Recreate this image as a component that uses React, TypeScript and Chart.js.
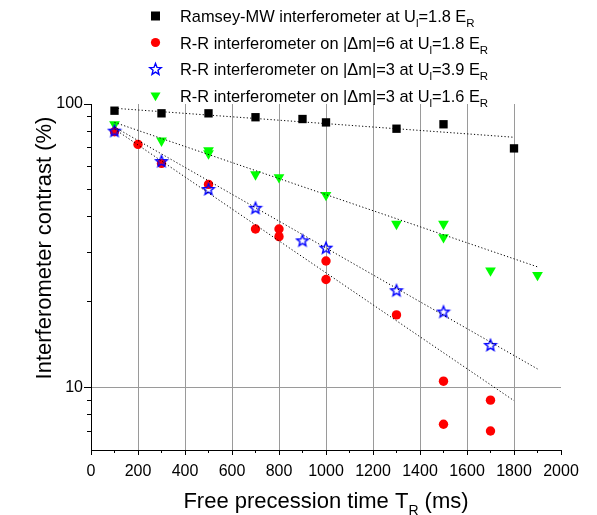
import React, { useEffect, useRef } from "react";
import { Chart, registerables } from "chart.js";

Chart.register(...registerables);

// ---------- data ----------
const ramseyT = [100, 300, 500, 700, 900, 1000, 1300, 1500, 1800];
const ramseyC = [94.7, 92.7, 92.7, 89.8, 88.5, 86.1, 81.8, 84.8, 69.7];

const dm6T = [100, 200, 300, 500, 700, 800, 800, 1000, 1000, 1300, 1500, 1500, 1700, 1700];
const dm6C = [79.8, 72.0, 61.7, 52.0, 36.2, 36.2, 34.0, 27.9, 24.0, 18.0, 10.5, 7.4, 9.0, 7.0];

const dm3hT = [100, 300, 500, 700, 900, 1000, 1300, 1500, 1700];
const dm3hC = [80.5, 62.9, 50.1, 43.0, 33.0, 31.1, 22.0, 18.5, 14.1];

const dm3lT = [100, 300, 500, 500, 700, 800, 1000, 1300, 1500, 1500, 1700, 1900];
const dm3lC = [84.8, 74.2, 68.6, 66.9, 56.4, 55.1, 47.7, 37.7, 37.7, 33.8, 25.8, 24.9];

// exponential fits (end points)
const fitRamseyT = [100, 1800];
const fitRamseyC = [96.6, 76.3];
const fitDm6T = [100, 1800];
const fitDm6C = [81.6, 8.96];
const fitDm3hT = [100, 1900];
const fitDm3hC = [82.9, 11.6];
const fitDm3lT = [100, 1900];
const fitDm3lC = [86.1, 26.6];

const xMin = 0;
const xMax = 2000;
const xStep = 100;
const xLabelStep = 200;
const yMin = 6;
const yMax = 100;
const yTickValues = [7, 8, 9, 10, 20, 30, 40, 50, 60, 70, 80, 90, 100];
const yLabelValues = [10, 100];
const yGridValues = [10];

const legendPrefixes = [
  "Ramsey-MW interferometer at U",
  "R-R interferometer on |\u0394m|=6 at U",
  "R-R interferometer on |\u0394m|=3 at U",
  "R-R interferometer on |\u0394m|=3 at U",
];
const legendValues = ["=1.8 E", "=1.8 E", "=3.9 E", "=1.6 E"];
const legendSub1 = "l";
const legendSub2 = "R";

const xTitleMain = "Free precession time T";
const xTitleSub = "R";
const xTitleTail = " (ms)";
const yTitle = "Interferometer contrast (%)";

const FONT = "'Liberation Sans', Arial, Helvetica, sans-serif";
const GRID = "#9a9a9a";
const BLACK = "#000000";
const RED = "#ff0000";
const BLUE = "#0000ff";
const GREEN = "#00ff00";

function zip(xs: number[], ys: number[]) {
  return xs.map((x, i) => ({ x, y: ys[i] }));
}

function starPath(ctx: CanvasRenderingContext2D, cx: number, cy: number, R: number, r: number) {
  ctx.beginPath();
  for (let i = 0; i < 10; i++) {
    const ang = -Math.PI / 2 + (i * Math.PI) / 5;
    const rad = i % 2 === 0 ? R : r;
    const px = cx + rad * Math.cos(ang);
    const py = cy + rad * Math.sin(ang);
    if (i === 0) ctx.moveTo(px, py);
    else ctx.lineTo(px, py);
  }
  ctx.closePath();
}

function drawStar(ctx: CanvasRenderingContext2D, cx: number, cy: number) {
  ctx.save();
  starPath(ctx, cx, cy, 6, 2.6);
  ctx.strokeStyle = BLUE;
  ctx.lineWidth = 1.4;
  ctx.lineJoin = "miter";
  ctx.stroke();
  ctx.restore();
}

function makeStarImage() {
  const c = document.createElement("canvas");
  c.width = 16;
  c.height = 16;
  const ctx = c.getContext("2d")!;
  drawStar(ctx, 8, 8.6);
  return c;
}

function drawTriDown(ctx: CanvasRenderingContext2D, cx: number, cy: number, r: number) {
  ctx.beginPath();
  ctx.moveTo(cx, cy + r);
  ctx.lineTo(cx - r * 0.866, cy - r * 0.5);
  ctx.lineTo(cx + r * 0.866, cy - r * 0.5);
  ctx.closePath();
  ctx.fillStyle = GREEN;
  ctx.fill();
}

const decorPlugin = {
  id: "decor",
  afterDraw(chart: any) {
    const { ctx, chartArea } = chart;
    const xs = chart.scales.x;
    const ys = chart.scales.y;
    ctx.save();
    ctx.strokeStyle = "#000";
    ctx.lineWidth = 1;
    // x tick marks
    for (const t of xs.ticks) {
      const px = Math.round(xs.getPixelForValue(t.value) - 0.5) + 0.5;
      const major = t.value % xLabelStep === 0;
      ctx.beginPath();
      ctx.moveTo(px, chartArea.bottom);
      ctx.lineTo(px, chartArea.bottom + (major ? 5 : 3));
      ctx.stroke();
    }
    // y tick marks
    for (const t of ys.ticks) {
      const py = Math.round(ys.getPixelForValue(t.value) - 0.5) + 0.5;
      const major = yLabelValues.includes(t.value);
      ctx.beginPath();
      ctx.moveTo(chartArea.left, py);
      ctx.lineTo(chartArea.left - (major ? 7 : 4), py);
      ctx.stroke();
    }

    // axis titles
    ctx.fillStyle = "#000";
    ctx.textBaseline = "alphabetic";
    ctx.textAlign = "left";
    const mainF = `22px ${FONT}`;
    const subF = `14px ${FONT}`;
    ctx.font = mainF;
    const w1 = ctx.measureText(xTitleMain).width;
    const w3 = ctx.measureText(xTitleTail).width;
    ctx.font = subF;
    const w2 = ctx.measureText(xTitleSub).width;
    const total = w1 + w2 + w3;
    let tx = (chartArea.left + chartArea.right) / 2 - total / 2;
    const tb = chartArea.bottom + 58;
    ctx.font = mainF;
    ctx.fillText(xTitleMain, tx, tb);
    tx += w1;
    ctx.font = subF;
    ctx.fillText(xTitleSub, tx, tb + 7);
    tx += w2;
    ctx.font = mainF;
    ctx.fillText(xTitleTail, tx, tb);

    ctx.save();
    ctx.translate(51, 248);
    ctx.rotate(-Math.PI / 2);
    ctx.textAlign = "center";
    ctx.font = mainF;
    ctx.fillText(yTitle, 0, 0);
    ctx.restore();

    // legend
    const lx = 180;
    const mx = 155.5;
    const rowY = [16, 42.5, 69, 95.5];
    const lf = `16.4px ${FONT}`;
    const sf = `11.5px ${FONT}`;
    for (let i = 0; i < legendPrefixes.length; i++) {
      const cy = rowY[i];
      if (i === 0) {
        ctx.fillStyle = BLACK;
        ctx.fillRect(mx - 4.5, cy - 4.5, 9, 9);
      } else if (i === 1) {
        ctx.fillStyle = RED;
        ctx.beginPath();
        ctx.arc(mx, cy, 4.6, 0, Math.PI * 2);
        ctx.fill();
      } else if (i === 2) {
        drawStar(ctx, mx, cy + 0.5);
      } else {
        drawTriDown(ctx, mx, cy, 5.8);
      }
      ctx.fillStyle = "#000";
      const base = cy + 6;
      let x = lx;
      ctx.font = lf;
      ctx.fillText(legendPrefixes[i], x, base);
      x += ctx.measureText(legendPrefixes[i]).width;
      ctx.font = sf;
      ctx.fillText(legendSub1, x, base + 5);
      x += ctx.measureText(legendSub1).width;
      ctx.font = lf;
      ctx.fillText(legendValues[i], x, base);
      x += ctx.measureText(legendValues[i]).width;
      ctx.font = sf;
      ctx.fillText(legendSub2, x, base + 5);
    }
    ctx.restore();
  },
};

export default function App() {
  const ref = useRef<HTMLCanvasElement | null>(null);

  useEffect(() => {
    if (!ref.current) return;
    Chart.defaults.font.family = FONT;
    Chart.defaults.color = "#000";
    const star = makeStarImage();

    const fitStyle = {
      type: "line" as const,
      borderColor: "#000",
      borderWidth: 1,
      borderDash: [1.2, 2.2],
      pointRadius: 0,
      fill: false,
      order: 0,
    };

    const chart = new Chart(ref.current, {
      type: "scatter",
      data: {
        datasets: [
          { ...fitStyle, label: "fit1", data: zip(fitRamseyT, fitRamseyC) },
          { ...fitStyle, label: "fit2", data: zip(fitDm6T, fitDm6C) },
          { ...fitStyle, label: "fit3", data: zip(fitDm3hT, fitDm3hC) },
          { ...fitStyle, label: "fit4", data: zip(fitDm3lT, fitDm3lC) },
          {
            label: "Ramsey-MW",
            data: zip(ramseyT, ramseyC),
            pointStyle: "rect",
            pointRadius: 5.9,
            backgroundColor: BLACK,
            borderWidth: 0,
            order: 4,
          },
          {
            label: "dm6",
            data: zip(dm6T, dm6C),
            pointStyle: "circle",
            pointRadius: 4.7,
            backgroundColor: RED,
            borderWidth: 0,
            order: 2,
          },
          {
            label: "dm3 3.9",
            data: zip(dm3hT, dm3hC),
            pointStyle: star as any,
            pointRadius: 6,
            backgroundColor: BLUE,
            borderColor: BLUE,
            order: 1,
          },
          {
            label: "dm3 1.6",
            data: zip(dm3lT, dm3lC),
            pointStyle: "triangle",
            rotation: 180,
            pointRadius: 6.2,
            backgroundColor: GREEN,
            borderWidth: 0,
            order: 3,
          },
        ] as any,
      },
      options: {
        animation: false,
        responsive: false,
        events: [],
        layout: { padding: { left: 0, top: 104, right: 36, bottom: 0 } },
        plugins: { legend: { display: false }, tooltip: { enabled: false } },
        scales: {
          x: {
            type: "linear",
            min: xMin,
            max: xMax,
            afterFit: (s: any) => {
              s.height = 65;
            },
            afterBuildTicks: (s: any) => {
              const t = [];
              for (let v = xMin; v <= xMax; v += xStep) t.push({ value: v });
              s.ticks = t;
            },
            ticks: {
              autoSkip: false,
              maxRotation: 0,
              padding: 12,
              font: { size: 16, family: FONT },
              color: "#000",
              callback: (v: any) => (Number(v) % xLabelStep === 0 ? String(v) : ""),
            },
            grid: {
              drawTicks: false,
              lineWidth: 1,
              color: (c: any) => {
                const v = c.tick ? c.tick.value : NaN;
                return v % xLabelStep === 0 && v > xMin && v < xMax ? GRID : "rgba(0,0,0,0)";
              },
            },
            border: { display: true, color: "#000", width: 1 },
          },
          y: {
            type: "logarithmic",
            min: yMin,
            max: yMax,
            afterFit: (s: any) => {
              s.width = 91;
            },
            afterBuildTicks: (s: any) => {
              s.ticks = yTickValues.map((v) => ({ value: v, major: yLabelValues.includes(v) }));
            },
            ticks: {
              autoSkip: false,
              padding: 8,
              font: { size: 16, family: FONT },
              color: "#000",
              callback: (v: any) => (yLabelValues.includes(Number(v)) ? String(v) : ""),
            },
            grid: {
              drawTicks: false,
              lineWidth: 1,
              color: (c: any) => {
                const v = c.tick ? c.tick.value : NaN;
                return yGridValues.includes(v) ? GRID : "rgba(0,0,0,0)";
              },
            },
            border: { display: true, color: "#000", width: 1 },
          },
        },
      },
      plugins: [decorPlugin],
    });
    return () => chart.destroy();
  }, []);

  return (
    <div style={{ position: "absolute", left: 0, top: 0, width: 597, height: 515, background: "#fff" }}>
      <canvas ref={ref} width={597} height={515} style={{ width: 597, height: 515, display: "block" }} />
    </div>
  );
}
